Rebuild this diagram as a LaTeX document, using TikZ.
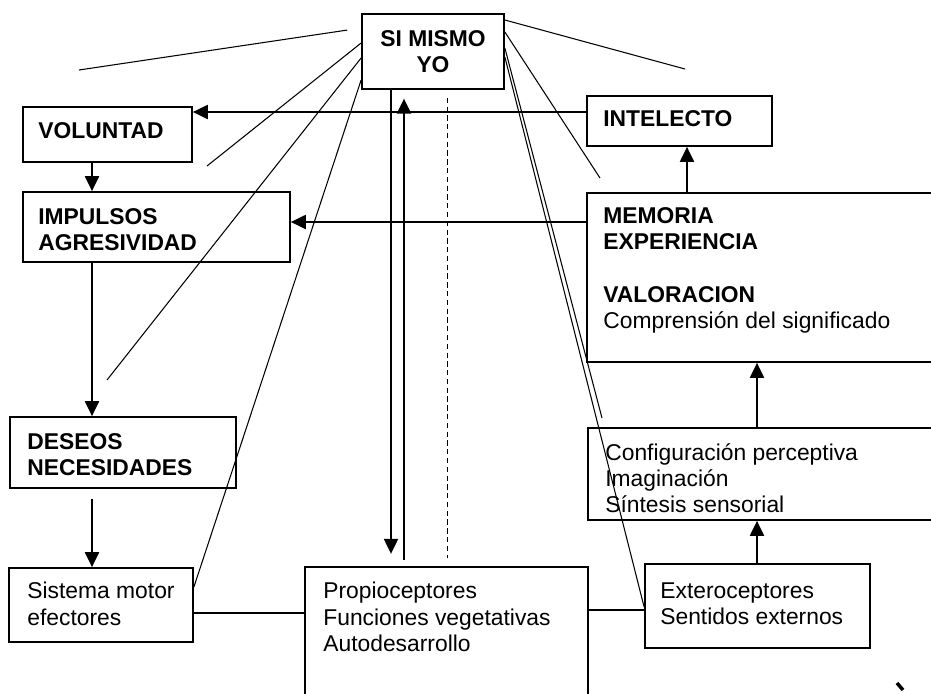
\documentclass[tikz,border=0pt]{standalone}
\usepackage{fontspec}
\setmainfont{Liberation Sans}
\usetikzlibrary{arrows.meta,fit}
\begin{document}
\begin{tikzpicture}[x=0.02cm,y=-0.02cm,
  box/.style={draw,line width=1pt,inner sep=0pt},
  txt/.style={anchor=north west,inner sep=0pt,align=left,font=\fontsize{13pt}{15pt}\selectfont},
  btxt/.style={anchor=north west,inner sep=0pt,align=left,font=\fontsize{13pt}{15pt}\selectfont\bfseries},
  arr/.style={line width=1pt,-{Triangle[length=8.5pt,width=8pt]}},
  con/.style={line width=1pt},
  ray/.style={line width=0.6pt}]
\useasboundingbox (0,0) rectangle (931,694);
\clip (0,0) rectangle (931,694);
% boxes
\node[box,fit={(362,14) (504,89)}] (simismo) {};
\node[box,fit={(23,107) (192,162)}] (voluntad) {};
\node[box,fit={(23,192) (290,262)}] (impulsos) {};
\node[box,fit={(10,417) (236,488)}] (deseos) {};
\node[box,fit={(9,568) (193,642)}] (motor) {};
\node[box,fit={(305,567) (588,720)}] (propio) {};
\node[box,fit={(645,564) (870,648)}] (extero) {};
\node[box,fit={(588,428) (950,520)}] (config) {};
\node[box,fit={(587,193) (950,362)}] (memoria) {};
\node[box,fit={(587,96) (772,146)}] (intelecto) {};
% texts
\node[btxt,anchor=north,align=center] (simismoT) at (433,30) {SI MISMO\\YO};
\node[btxt] (voluntadT) at (38,122) {VOLUNTAD};
\node[btxt] (impulsosT) at (38,208) {IMPULSOS\\AGRESIVIDAD};
\node[btxt] (deseosT) at (27,433) {DESEOS\\NECESIDADES};
\node[txt] (motorT) at (27,582) {Sistema motor\\efectores};
\node[txt] (propioT) at (323,582) {Propioceptores\\Funciones vegetativas\\Autodesarrollo};
\node[txt] (exteroT) at (660,582) {Exteroceptores\\Sentidos externos};
\node[txt] (configT) at (605,443) {Configuración perceptiva\\Imaginación\\Síntesis sensorial};
\node[txt] (memoriaT) at (603,207) {\textbf{MEMORIA}\\\textbf{EXPERIENCIA}\\[15pt]\textbf{VALORACION}\\Comprensión del significado};
\node[btxt] (intelectoT) at (603,110) {INTELECTO};
% free ends
\coordinate (r1) at (79,70);
\coordinate (r2) at (685,69);
\coordinate (r3) at (600,178);
\coordinate (r4) at (602,418);
\coordinate (r5) at (207,166);
\coordinate (r6) at (107,380);
\coordinate (m1) at (897,683);
\coordinate (m2) at (903,690);
% rays from SI MISMO
\draw[ray,shorten <=8pt] (simismo.west |- 0,28) -- (r1);
\draw[ray] (simismo.east |- 0,20) -- (r2);
\draw[ray] (simismo.east |- 0,32) -- (r3);
\draw[ray] (simismo.east |- 0,48) -- (r4);
\draw[ray] (simismo.east |- 0,57) -- (extero.west |- 0,607);
\draw[ray] (simismo.west |- 0,43) -- (r5);
\draw[ray] (simismo.west |- 0,58) -- (r6);
\draw[ray] (simismo.west |- 0,80) -- (motor.east |- 0,587);
% arrows
\draw[arr] (intelecto.west |- 0,112) -- (voluntad.east |- 0,112);
\draw[arr] (memoria.west |- 0,222) -- (impulsos.east |- 0,222);
\draw[arr] (voluntad.south -| 92,0) -- (impulsos.north -| 92,0);
\draw[arr] (impulsos.south -| 92,0) -- (deseos.north -| 92,0);
\draw[arr,shorten <=5.5pt] (deseos.south -| 92,0) -- (motor.north -| 92,0);
\draw[arr] (memoria.north -| 687,0) -- (intelecto.south -| 687,0);
\draw[arr] (config.north -| 757,0) -- (memoria.south -| 757,0);
\draw[arr] (extero.north -| 757,0) -- (config.south -| 757,0);
\draw[arr,shorten >=7pt] (simismo.south -| 391,0) -- (propio.north -| 391,0);
\draw[arr,shorten <=3.5pt,shorten >=5pt] (propio.north -| 404,0) -- (simismo.south -| 404,0);
\draw[line width=0.5pt,densely dashed,shorten <=4.5pt,shorten >=4.5pt] (simismo.south -| 447,0) -- (propio.north -| 447,0);
\draw[con] (motor.east |- 0,613) -- (propio.west |- 0,613);
\draw[con] (propio.east |- 0,610) -- (extero.west |- 0,610);
\draw[line width=2pt] (m1) -- (m2);
\end{tikzpicture}
\end{document}
